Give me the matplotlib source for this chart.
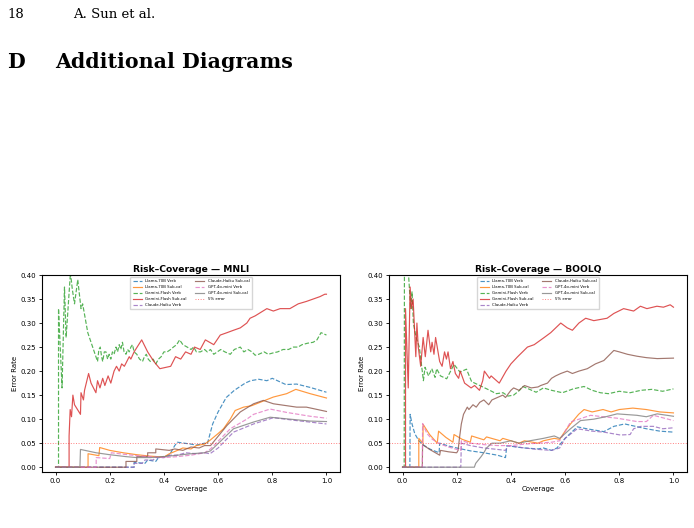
import matplotlib
matplotlib.use("Agg")
import matplotlib.pyplot as plt

# ---------------- data ----------------
models = ["Llama-70B", "Gemini-Flash", "Claude-Haiku", "GPT-4o-mini"]
colors = {"Llama-70B": ("#1f77b4", "#ff7f0e"),
          "Gemini-Flash": ("#2ca02c", "#d62728"),
          "Claude-Haiku": ("#9467bd", "#8c564b"),
          "GPT-4o-mini": ("#e377c2", "#7f7f7f")}

# MNLI
mnli_llama_verb_c = [0, 0.29, 0.29, 0.33, 0.34, 0.37, 0.38, 0.42, 0.44, 0.45, 0.50, 0.52, 0.55, 0.56, 0.58, 0.60, 0.63, 0.66, 0.70, 0.72, 0.75, 0.78, 0.80, 0.85, 0.89, 0.94, 1.0]
mnli_llama_verb_e = [0, 0, 0.01, 0.008, 0.015, 0.012, 0.02, 0.025, 0.045, 0.052, 0.048, 0.046, 0.05, 0.048, 0.09, 0.115, 0.145, 0.16, 0.175, 0.18, 0.183, 0.18, 0.185, 0.172, 0.173, 0.166, 0.156]
mnli_llama_sub_c = [0, 0.12, 0.12, 0.16, 0.163, 0.2, 0.25, 0.3, 0.35, 0.40, 0.42, 0.45, 0.47, 0.50, 0.52, 0.55, 0.57, 0.60, 0.62, 0.645, 0.663, 0.694, 0.724, 0.755, 0.804, 0.853, 0.887, 0.94, 1.0]
mnli_llama_sub_e = [0, 0, 0.028, 0.024, 0.041, 0.035, 0.03, 0.026, 0.023, 0.021, 0.028, 0.035, 0.04, 0.038, 0.045, 0.048, 0.056, 0.07, 0.08, 0.10, 0.118, 0.125, 0.128, 0.135, 0.146, 0.153, 0.162, 0.153, 0.144]
mnli_gem_verb_c = [0, 0.011, 0.011, 0.024, 0.033, 0.039, 0.055, 0.062, 0.070, 0.082, 0.094, 0.100, 0.119, 0.137, 0.155, 0.160, 0.165, 0.170, 0.174, 0.180, 0.186, 0.192, 0.198, 0.204, 0.210, 0.216, 0.223, 0.229, 0.235, 0.241, 0.247, 0.253, 0.26, 0.266, 0.272, 0.278, 0.284, 0.29, 0.30, 0.31, 0.321, 0.328, 0.335, 0.342, 0.35, 0.360, 0.370, 0.38, 0.39, 0.40, 0.412, 0.425, 0.435, 0.447, 0.458, 0.47, 0.486, 0.50, 0.51, 0.52, 0.535, 0.55, 0.56, 0.572, 0.584, 0.597, 0.61, 0.625, 0.645, 0.66, 0.682, 0.695, 0.71, 0.725, 0.737, 0.75, 0.77, 0.785, 0.804, 0.82, 0.84, 0.86, 0.878, 0.895, 0.91, 0.93, 0.951, 0.965, 0.98, 1.0]
mnli_gem_verb_e = [0, 0, 0.33, 0.165, 0.375, 0.27, 0.405, 0.37, 0.34, 0.39, 0.33, 0.34, 0.28, 0.25, 0.22, 0.245, 0.25, 0.23, 0.22, 0.24, 0.24, 0.225, 0.235, 0.225, 0.24, 0.235, 0.25, 0.24, 0.255, 0.245, 0.26, 0.24, 0.235, 0.245, 0.24, 0.25, 0.255, 0.24, 0.235, 0.225, 0.22, 0.23, 0.235, 0.225, 0.22, 0.225, 0.215, 0.225, 0.23, 0.24, 0.24, 0.245, 0.25, 0.255, 0.265, 0.255, 0.25, 0.245, 0.25, 0.24, 0.24, 0.245, 0.24, 0.245, 0.235, 0.24, 0.245, 0.24, 0.235, 0.245, 0.25, 0.24, 0.245, 0.24, 0.233, 0.235, 0.24, 0.235, 0.238, 0.24, 0.245, 0.245, 0.25, 0.25, 0.255, 0.258, 0.26, 0.265, 0.28, 0.275]
mnli_gem_sub_c = [0, 0.05, 0.05, 0.054, 0.059, 0.064, 0.070, 0.092, 0.094, 0.103, 0.107, 0.122, 0.131, 0.149, 0.155, 0.164, 0.174, 0.182, 0.194, 0.204, 0.216, 0.225, 0.235, 0.244, 0.254, 0.272, 0.278, 0.29, 0.318, 0.34, 0.363, 0.385, 0.425, 0.443, 0.462, 0.48, 0.50, 0.513, 0.534, 0.553, 0.584, 0.608, 0.633, 0.657, 0.682, 0.706, 0.718, 0.737, 0.78, 0.804, 0.829, 0.865, 0.896, 0.926, 0.951, 0.976, 0.994, 1.0]
mnli_gem_sub_e = [0, 0, 0.065, 0.12, 0.105, 0.15, 0.13, 0.11, 0.155, 0.14, 0.16, 0.195, 0.175, 0.155, 0.18, 0.165, 0.185, 0.17, 0.19, 0.175, 0.2, 0.21, 0.2, 0.215, 0.21, 0.23, 0.225, 0.24, 0.265, 0.24, 0.22, 0.205, 0.21, 0.23, 0.225, 0.24, 0.235, 0.25, 0.245, 0.265, 0.255, 0.275, 0.28, 0.285, 0.29, 0.3, 0.31, 0.315, 0.33, 0.325, 0.33, 0.33, 0.34, 0.345, 0.35, 0.355, 0.36, 0.36]
mnli_claude_verb_c = [0, 0.29, 0.29, 0.32, 0.33, 0.36, 0.37, 0.40, 0.42, 0.45, 0.48, 0.52, 0.55, 0.57, 0.60, 0.657, 0.731, 0.804, 0.89, 1.0]
mnli_claude_verb_e = [0, 0, 0.008, 0.008, 0.015, 0.015, 0.02, 0.02, 0.025, 0.025, 0.03, 0.028, 0.03, 0.028, 0.04, 0.073, 0.090, 0.103, 0.097, 0.090]
mnli_claude_sub_c = [0, 0.26, 0.26, 0.30, 0.30, 0.34, 0.34, 0.37, 0.37, 0.42, 0.44, 0.47, 0.50, 0.53, 0.55, 0.572, 0.633, 0.682, 0.731, 0.767, 0.804, 0.89, 0.926, 1.0]
mnli_claude_sub_e = [0, 0, 0.012, 0.012, 0.022, 0.022, 0.03, 0.03, 0.038, 0.035, 0.038, 0.035, 0.042, 0.04, 0.045, 0.045, 0.087, 0.115, 0.132, 0.139, 0.132, 0.125, 0.125, 0.116]
mnli_gpt_verb_c = [0, 0.15, 0.15, 0.20, 0.206, 0.25, 0.30, 0.35, 0.40, 0.45, 0.50, 0.55, 0.572, 0.645, 0.706, 0.731, 0.792, 0.853, 0.94, 1.0]
mnli_gpt_verb_e = [0, 0, 0.02, 0.018, 0.03, 0.027, 0.024, 0.022, 0.02, 0.022, 0.025, 0.03, 0.038, 0.080, 0.10, 0.11, 0.121, 0.114, 0.106, 0.102]
mnli_gpt_sub_c = [0, 0.09, 0.092, 0.15, 0.20, 0.26, 0.30, 0.35, 0.40, 0.45, 0.50, 0.55, 0.572, 0.657, 0.731, 0.792, 0.865, 0.94, 1.0]
mnli_gpt_sub_e = [0, 0, 0.037, 0.03, 0.026, 0.022, 0.02, 0.02, 0.022, 0.025, 0.028, 0.03, 0.034, 0.08, 0.094, 0.104, 0.10, 0.096, 0.095]

# BOOLQ
boolq_llama_verb_c = [0, 0.027, 0.028, 0.035, 0.045, 0.06, 0.08, 0.10, 0.135, 0.137, 0.17, 0.2, 0.25, 0.3, 0.35, 0.38, 0.385, 0.42, 0.45, 0.5, 0.52, 0.55, 0.57, 0.6, 0.645, 0.68, 0.743, 0.78, 0.82, 0.86, 0.9, 0.95, 1.0]
boolq_llama_verb_e = [0, 0, 0.11, 0.09, 0.07, 0.055, 0.045, 0.038, 0.03, 0.05, 0.044, 0.04, 0.034, 0.03, 0.025, 0.02, 0.045, 0.042, 0.04, 0.038, 0.04, 0.035, 0.04, 0.06, 0.084, 0.08, 0.074, 0.085, 0.09, 0.085, 0.08, 0.075, 0.073]
boolq_llama_sub_c = [0, 0.06, 0.06, 0.075, 0.076, 0.10, 0.128, 0.133, 0.16, 0.186, 0.19, 0.22, 0.25, 0.255, 0.30, 0.31, 0.36, 0.37, 0.43, 0.45, 0.5, 0.52, 0.56, 0.58, 0.6, 0.62, 0.65, 0.67, 0.7, 0.74, 0.77, 0.8, 0.85, 0.9, 0.95, 1.0]
boolq_llama_sub_e = [0, 0, 0.06, 0.05, 0.089, 0.068, 0.05, 0.075, 0.062, 0.052, 0.068, 0.058, 0.052, 0.065, 0.057, 0.063, 0.055, 0.06, 0.05, 0.055, 0.05, 0.055, 0.06, 0.058, 0.075, 0.09, 0.11, 0.12, 0.115, 0.12, 0.115, 0.12, 0.123, 0.12, 0.115, 0.113]
boolq_gem_verb_c = [0, 0.006, 0.007, 0.02, 0.03, 0.035, 0.04, 0.05, 0.062, 0.077, 0.083, 0.096, 0.108, 0.12, 0.126, 0.14, 0.163, 0.181, 0.19, 0.212, 0.236, 0.255, 0.285, 0.322, 0.346, 0.371, 0.389, 0.41, 0.432, 0.444, 0.469, 0.493, 0.52, 0.55, 0.59, 0.63, 0.67, 0.70, 0.73, 0.76, 0.8, 0.84, 0.88, 0.92, 0.96, 1.0]
boolq_gem_verb_e = [0, 0, 0.42, 0.42, 0.33, 0.365, 0.30, 0.27, 0.25, 0.18, 0.208, 0.19, 0.205, 0.187, 0.205, 0.19, 0.184, 0.204, 0.214, 0.198, 0.204, 0.178, 0.17, 0.16, 0.153, 0.155, 0.148, 0.15, 0.16, 0.168, 0.162, 0.156, 0.165, 0.16, 0.155, 0.163, 0.168, 0.16, 0.155, 0.153, 0.158, 0.155, 0.16, 0.162, 0.158, 0.163]
boolq_gem_sub_c = [0, 0.011, 0.011, 0.021, 0.028, 0.033, 0.039, 0.049, 0.053, 0.058, 0.067, 0.076, 0.084, 0.094, 0.104, 0.109, 0.116, 0.122, 0.131, 0.137, 0.146, 0.155, 0.162, 0.168, 0.177, 0.186, 0.195, 0.207, 0.213, 0.229, 0.241, 0.253, 0.266, 0.284, 0.296, 0.302, 0.321, 0.327, 0.357, 0.382, 0.40, 0.425, 0.461, 0.486, 0.523, 0.547, 0.584, 0.608, 0.627, 0.651, 0.676, 0.706, 0.755, 0.78, 0.816, 0.853, 0.878, 0.902, 0.939, 0.963, 0.988, 1.0]
boolq_gem_sub_e = [0, 0, 0.33, 0.165, 0.375, 0.33, 0.35, 0.23, 0.30, 0.25, 0.21, 0.27, 0.23, 0.285, 0.24, 0.26, 0.235, 0.27, 0.24, 0.22, 0.21, 0.24, 0.225, 0.24, 0.205, 0.22, 0.195, 0.185, 0.2, 0.175, 0.17, 0.165, 0.17, 0.16, 0.18, 0.2, 0.185, 0.19, 0.175, 0.2, 0.215, 0.23, 0.25, 0.255, 0.27, 0.28, 0.30, 0.29, 0.285, 0.30, 0.31, 0.305, 0.31, 0.32, 0.33, 0.325, 0.335, 0.33, 0.335, 0.333, 0.338, 0.333]
boolq_claude_verb_c = [0, 0.215, 0.217, 0.25, 0.3, 0.35, 0.38, 0.39, 0.45, 0.5, 0.55, 0.58, 0.6, 0.645, 0.7, 0.743, 0.804, 0.84, 0.853, 0.88, 0.926, 0.96, 1.0]
boolq_claude_verb_e = [0, 0, 0.05, 0.045, 0.04, 0.037, 0.035, 0.045, 0.04, 0.037, 0.035, 0.04, 0.06, 0.08, 0.075, 0.073, 0.067, 0.068, 0.08, 0.085, 0.085, 0.08, 0.082]
boolq_claude_sub_c = [0, 0.073, 0.074, 0.10, 0.137, 0.14, 0.17, 0.2, 0.205, 0.21, 0.217, 0.225, 0.239, 0.245, 0.26, 0.272, 0.285, 0.30, 0.318, 0.33, 0.35, 0.37, 0.38, 0.4, 0.41, 0.43, 0.45, 0.475, 0.5, 0.51, 0.535, 0.55, 0.565, 0.584, 0.608, 0.627, 0.651, 0.682, 0.712, 0.743, 0.78, 0.80, 0.83, 0.865, 0.90, 0.94, 1.0]
boolq_claude_sub_e = [0, 0, 0.047, 0.037, 0.025, 0.035, 0.032, 0.03, 0.035, 0.06, 0.09, 0.11, 0.125, 0.12, 0.13, 0.125, 0.135, 0.14, 0.13, 0.14, 0.145, 0.15, 0.145, 0.16, 0.165, 0.16, 0.17, 0.165, 0.167, 0.17, 0.175, 0.185, 0.19, 0.195, 0.2, 0.195, 0.2, 0.205, 0.215, 0.222, 0.243, 0.24, 0.235, 0.231, 0.228, 0.226, 0.227]
boolq_gpt_verb_c = [0, 0.073, 0.074, 0.09, 0.11, 0.14, 0.17, 0.2, 0.215, 0.217, 0.25, 0.3, 0.35, 0.4, 0.45, 0.5, 0.55, 0.58, 0.62, 0.694, 0.74, 0.792, 0.865, 0.9, 0.926, 1.0]
boolq_gpt_verb_e = [0, 0, 0.091, 0.07, 0.058, 0.048, 0.042, 0.037, 0.035, 0.055, 0.05, 0.047, 0.045, 0.045, 0.048, 0.05, 0.052, 0.055, 0.094, 0.108, 0.105, 0.102, 0.095, 0.095, 0.108, 0.097]
boolq_gpt_sub_c = [0, 0.265, 0.27, 0.28, 0.29, 0.30, 0.31, 0.33, 0.36, 0.4, 0.43, 0.47, 0.52, 0.56, 0.58, 0.6, 0.62, 0.657, 0.706, 0.75, 0.792, 0.865, 0.9, 0.94, 1.0]
boolq_gpt_sub_e = [0, 0, 0.008, 0.015, 0.022, 0.03, 0.04, 0.05, 0.05, 0.055, 0.05, 0.055, 0.06, 0.065, 0.06, 0.07, 0.08, 0.097, 0.10, 0.105, 0.111, 0.108, 0.105, 0.111, 0.106]

datasets = {
    "MNLI": {
        "Llama-70B": ((mnli_llama_verb_c, mnli_llama_verb_e), (mnli_llama_sub_c, mnli_llama_sub_e)),
        "Gemini-Flash": ((mnli_gem_verb_c, mnli_gem_verb_e), (mnli_gem_sub_c, mnli_gem_sub_e)),
        "Claude-Haiku": ((mnli_claude_verb_c, mnli_claude_verb_e), (mnli_claude_sub_c, mnli_claude_sub_e)),
        "GPT-4o-mini": ((mnli_gpt_verb_c, mnli_gpt_verb_e), (mnli_gpt_sub_c, mnli_gpt_sub_e)),
    },
    "BOOLQ": {
        "Llama-70B": ((boolq_llama_verb_c, boolq_llama_verb_e), (boolq_llama_sub_c, boolq_llama_sub_e)),
        "Gemini-Flash": ((boolq_gem_verb_c, boolq_gem_verb_e), (boolq_gem_sub_c, boolq_gem_sub_e)),
        "Claude-Haiku": ((boolq_claude_verb_c, boolq_claude_verb_e), (boolq_claude_sub_c, boolq_claude_sub_e)),
        "GPT-4o-mini": ((boolq_gpt_verb_c, boolq_gpt_verb_e), (boolq_gpt_sub_c, boolq_gpt_sub_e)),
    },
}
error_threshold = 0.05

# ---------------- figure ----------------
fig = plt.figure(figsize=(6.94, 5.28), dpi=100)
fig.patch.set_facecolor("white")

fig.text(7 / 694, 1 - 18.5 / 528, "18", family="DejaVu Serif", fontsize=9.5, va="baseline", ha="left")
fig.text(73 / 694, 1 - 18.5 / 528, "A. Sun et al.", family="DejaVu Serif", fontsize=9.5, va="baseline", ha="left")
fig.text(7 / 694, 1 - 68.5 / 528, "D", family="DejaVu Serif", fontsize=14.8, weight="bold", va="baseline", ha="left")
fig.text(55 / 694, 1 - 68.5 / 528, "Additional Diagrams", family="DejaVu Serif", fontsize=14.8, weight="bold", va="baseline", ha="left")

axes_lefts = [42 / 694, 389 / 694]
for left, (name, dd) in zip(axes_lefts, datasets.items()):
    ax = fig.add_axes([left, 1 - 472 / 528, 298 / 694, 197 / 528])
    for m in models:
        (vc, ve), (sc, se) = dd[m]
        cv, cs = colors[m]
        ax.plot(vc, ve, color=cv, ls="--", lw=0.85, alpha=0.8, label=f"{m} Verb")
        ax.plot(sc, se, color=cs, ls="-", lw=0.85, alpha=0.8, label=f"{m} Sub-cal")
    ax.axhline(error_threshold, color="red", ls=":", lw=0.7, alpha=0.5, label="5% error")
    ax.set_xlim(-0.05, 1.05)
    ax.set_ylim(-0.01, 0.40)
    ax.set_xticks([0, 0.2, 0.4, 0.6, 0.8, 1.0])
    ax.set_yticks([0, 0.05, 0.1, 0.15, 0.2, 0.25, 0.3, 0.35, 0.4])
    ax.xaxis.set_major_formatter(matplotlib.ticker.FormatStrFormatter("%.1f"))
    ax.yaxis.set_major_formatter(matplotlib.ticker.FormatStrFormatter("%.2f"))
    ax.tick_params(labelsize=5, length=2.5, width=0.6, pad=1.5)
    for s in ax.spines.values():
        s.set_linewidth(0.8)
    ax.set_xlabel("Coverage", fontsize=5, labelpad=1.5)
    ax.set_ylabel("Error Rate", fontsize=5, labelpad=2)
    ax.set_title(f"Risk\u2013Coverage \u2014 {name}", fontsize=6.6, weight="bold", pad=2)
    ax.legend(loc="upper center", ncol=2, fontsize=2.8, frameon=True, edgecolor="#cccccc",
              handlelength=2.5, borderpad=0.6, labelspacing=0.5, columnspacing=2.0, framealpha=0.8)

fig.savefig("out.png", dpi=100)
